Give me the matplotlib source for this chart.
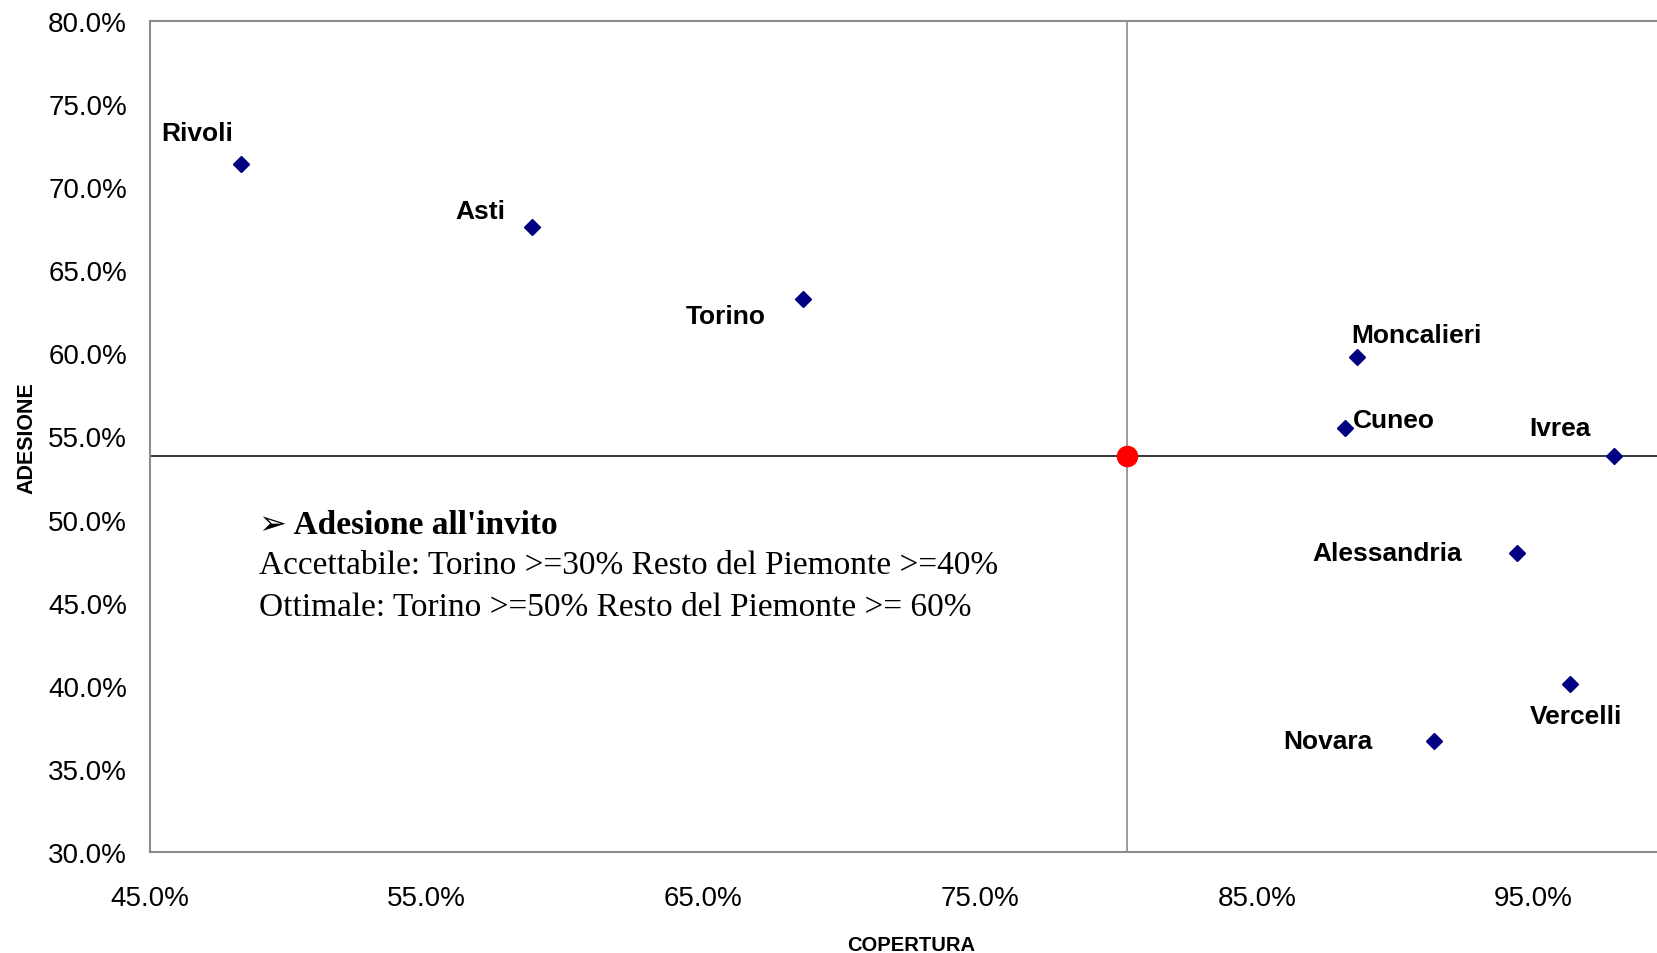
import matplotlib
matplotlib.use("Agg")
import matplotlib.pyplot as plt
from matplotlib.ticker import PercentFormatter

# ------------------------------------------------------------
# data (copertura / adesione per centro)
# ------------------------------------------------------------
centri = ["Rivoli", "Asti", "Torino", "Moncalieri", "Cuneo",
          "Ivrea", "Alessandria", "Vercelli", "Novara"]
copertura = [0.483, 0.588, 0.686, 0.886, 0.882, 0.979, 0.944, 0.963, 0.914]
adesione = [0.714, 0.676, 0.633, 0.598, 0.555, 0.538, 0.480, 0.401, 0.367]

# reference point (crosshair)
rif_x = 0.803
rif_y = 0.538

x_ticks = [0.45, 0.55, 0.65, 0.75, 0.85, 0.95]
y_ticks = [0.30, 0.35, 0.40, 0.45, 0.50, 0.55, 0.60, 0.65, 0.70, 0.75, 0.80]

note_lines = [
    "\u27a2 Adesione all'invito",
    "Accettabile: Torino >=30% Resto del Piemonte >=40%",
    "Ottimale: Torino >=50% Resto del Piemonte >= 60%",
]

# label offsets in points (dx, dy) relative to each marker
label_off = [(-31.7, 22.2), (-37.4, 11.4), (-55.5, -12.3), (43.3, 15.8),
             (34.7, 5.7), (-38.5, 20.8), (-93.6, 0.0), (4.4, -23.0),
             (-76.3, 0.0)]

# ------------------------------------------------------------
# figure
# ------------------------------------------------------------
W, H = 1657, 954
fig = plt.figure(figsize=(W / 100, H / 100), dpi=100)
# plot area runs past the right edge (cropped like the original)
ax = fig.add_axes([150 / W, (H - 853) / H, 1522 / W, 831 / H])

ax.set_xlim(0.45, 1.0)
ax.set_ylim(0.30, 0.80)
ax.set_xticks(x_ticks)
ax.set_yticks(y_ticks)
ax.xaxis.set_major_formatter(PercentFormatter(xmax=1, decimals=1))
ax.yaxis.set_major_formatter(PercentFormatter(xmax=1, decimals=1))

for s in ax.spines.values():
    s.set_color("#8c8c8c")
    s.set_linewidth(1.5)
ax.spines["right"].set_visible(False)

ax.tick_params(axis="both", length=0, labelsize=20)
ax.tick_params(axis="y", pad=16.5)
ax.tick_params(axis="x", pad=24)
for lab in ax.get_xticklabels() + ax.get_yticklabels():
    lab.set_fontfamily("Liberation Sans")

ax.axvline(rif_x, color="#808080", lw=1.1, zorder=1)
ax.axhline(rif_y, color="black", lw=1.1, zorder=1)

ax.plot(copertura, adesione, "D", color="#000080", ms=8, ls="none", zorder=3)
ax.plot([rif_x], [rif_y], "o", color="#ff0000", ms=14.5, zorder=4)

for name, x, y, off in zip(centri, copertura, adesione, label_off):
    ax.annotate(name, (x, y), xytext=off, textcoords="offset points",
                ha="center", va="center", fontsize=19, fontweight="bold",
                family="Liberation Sans")

# note box text
note_y = [0.3947, 0.3454, 0.2948]
for i, (txt, ty) in enumerate(zip(note_lines, note_y)):
    ax.text(0.0716, ty, txt, transform=ax.transAxes, ha="left", va="center",
            fontsize=24, fontweight="bold" if i == 0 else "normal",
            family=["Liberation Serif", "DejaVu Sans"])

fig.text(911 / W, 1 - 946 / H, "COPERTURA", ha="center", va="center",
         fontsize=14.5, fontweight="bold", family="Liberation Sans")
fig.text(26.5 / W, 1 - 438 / H, "ADESIONE", ha="center", va="center",
         rotation=90, fontsize=15.5, fontweight="bold", family="Liberation Sans")

fig.savefig("out.png", dpi=100)
